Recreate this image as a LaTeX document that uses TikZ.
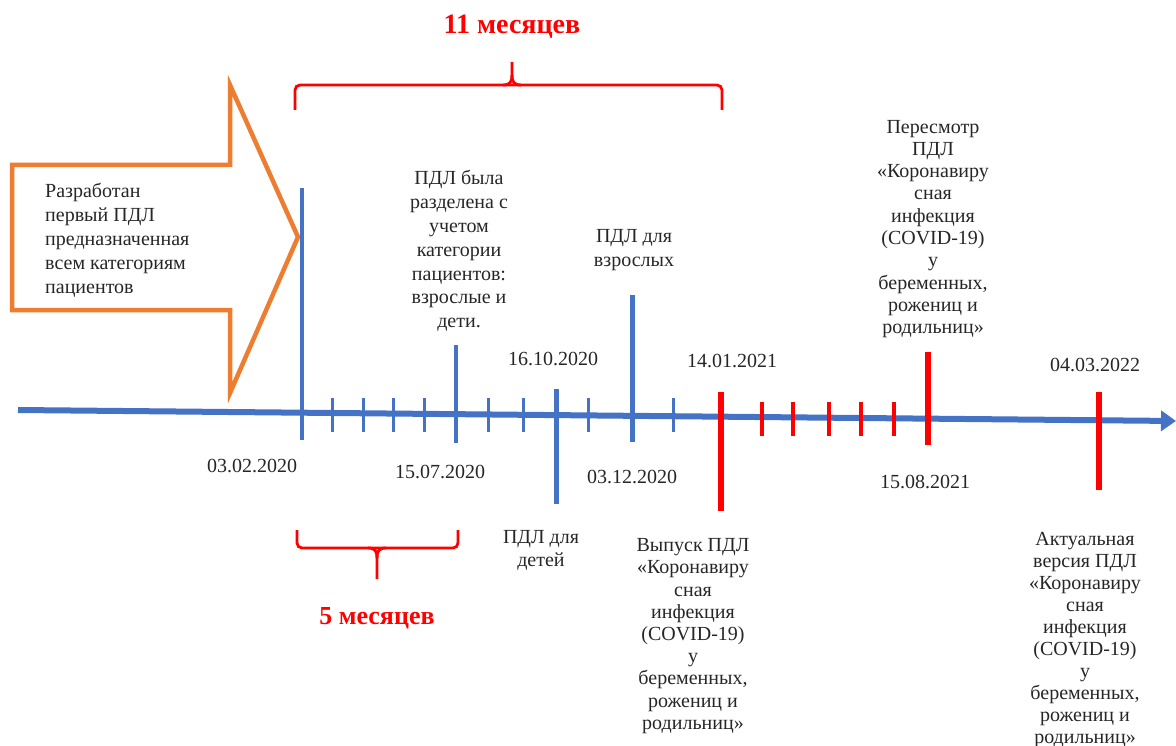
\documentclass[tikz,border=0pt]{standalone}
\usepackage{fontspec}
\setmainfont{Liberation Serif}
\usetikzlibrary{arrows.meta}
\definecolor{axblue}{HTML}{4472C4}
\definecolor{arrorange}{HTML}{ED7D31}
\definecolor{txt}{HTML}{262626}
\begin{document}
\begin{tikzpicture}[x=1pt,y=-1pt,
  desc/.style={inner sep=0pt,text=txt,align=center},
  datelbl/.style={inner sep=0pt,text=txt,font=\fontsize{20}{24}\selectfont},
  months/.style={inner sep=0pt,text=red,font=\fontsize{26}{30}\selectfont\bfseries},
  bigblue/.style={draw=axblue,line width=4.5pt},
  smallblue/.style={draw=axblue,line width=3pt},
  bigred/.style={draw=red,line width=6pt},
  smallred/.style={draw=red,line width=3.5pt},
  bracestyle/.style={draw=red,line width=2.8pt,rounded corners=5pt},
  bracetip/.style={draw=red,line width=2.8pt},
]
\useasboundingbox (0,0) rectangle (1176,746);

% orange arrow
\draw[arrorange,line width=4.5pt,line join=miter]
  (12,165) -- (230,165) -- (230,85) -- (298,237) -- (230,393) -- (230,310) -- (12,310) -- cycle;
\node[inner sep=0pt,text=txt,align=left,anchor=west,font=\fontsize{20}{24}\selectfont] (first) at (45,240)
  {Разработан\\первый ПДЛ\\предназначенная\\всем категориям\\пациентов};

% axis
\coordinate (axL) at (18,410);
\coordinate (axR) at (1176,421);
\draw[axblue,line width=6pt,-{Triangle[length=15pt,width=20pt]}] (axL) -- (axR);

% blue marks
\draw[bigblue] (302,188) -- (302,440);
\foreach \x in {332,363,393,424,488,523,588,673}
  \draw[smallblue] (\x,398) -- (\x,432);
\draw[bigblue] (456,345) -- (456,443);
\draw[bigblue,line width=5pt] (556,389) -- (556,504);
\draw[bigblue,line width=5pt] (632,295) -- (632,442);

% red marks
\draw[bigred] (721,392) -- (721,511);
\foreach \x in {762,793,829,861,894}
  \draw[smallred] (\x,402) -- (\x,436);
\draw[bigred] (928,352) -- (928,445);
\draw[bigred] (1099,392) -- (1099,490);

% dates
\node[datelbl] (d1) at (252,466) {03.02.2020};
\node[datelbl] (d2) at (440,472) {15.07.2020};
\node[datelbl] (d3) at (553,359) {16.10.2020};
\node[datelbl] (d4) at (632,477) {03.12.2020};
\node[datelbl] (d5) at (732,361) {14.01.2021};
\node[datelbl] (d6) at (925,482) {15.08.2021};
\node[datelbl] (d7) at (1095,365) {04.03.2022};

% descriptions
\node[desc,font=\fontsize{20}{23.8}\selectfont] (split) at (459,251)
  {ПДЛ была\\разделена с\\учетом\\категории\\пациентов:\\взрослые и\\дети.};
\node[desc,font=\fontsize{20}{24}\selectfont] (adult) at (634,250)
  {ПДЛ для\\взрослых};
\node[desc,font=\fontsize{20}{23}\selectfont] (child) at (541,550)
  {ПДЛ для\\детей};
\node[desc,font=\fontsize{20}{22.3}\selectfont] (revise) at (933,229)
  {Пересмотр\\ПДЛ\\«Коронавиру\\сная\\инфекция\\(COVID-19)\\у\\беременных,\\рожениц и\\родильниц»};
\node[desc,font=\fontsize{20}{22.2}\selectfont] (release) at (693,636)
  {Выпуск ПДЛ\\«Коронавиру\\сная\\инфекция\\(COVID-19)\\у\\беременных,\\рожениц и\\родильниц»};
\node[desc,font=\fontsize{20}{22}\selectfont] (actual) at (1085,640)
  {Актуальная\\версия ПДЛ\\«Коронавиру\\сная\\инфекция\\(COVID-19)\\у\\беременных,\\рожениц и\\родильниц»};

% top brace
\draw[bracestyle] (295,110) -- (295,85) -- (722,85) -- (722,110);
\draw[bracetip] (503,85) .. controls (510,85) and (512,82) .. (512,75) -- (512,62);
\draw[bracetip] (521,85) .. controls (514,85) and (512,82) .. (512,75);
\node[months,font=\fontsize{28}{32}\selectfont\bfseries] (m11) at (512,27) {11 месяцев};

% bottom brace
\draw[bracestyle] (297,530) -- (297,548) -- (458,548) -- (458,530);
\draw[bracetip] (368,548) .. controls (375,548) and (377,551) .. (377,558) -- (377,579);
\draw[bracetip] (386,548) .. controls (379,548) and (377,551) .. (377,558);
\node[months] (m5) at (377,618) {5 месяцев};
\end{tikzpicture}
\end{document}
